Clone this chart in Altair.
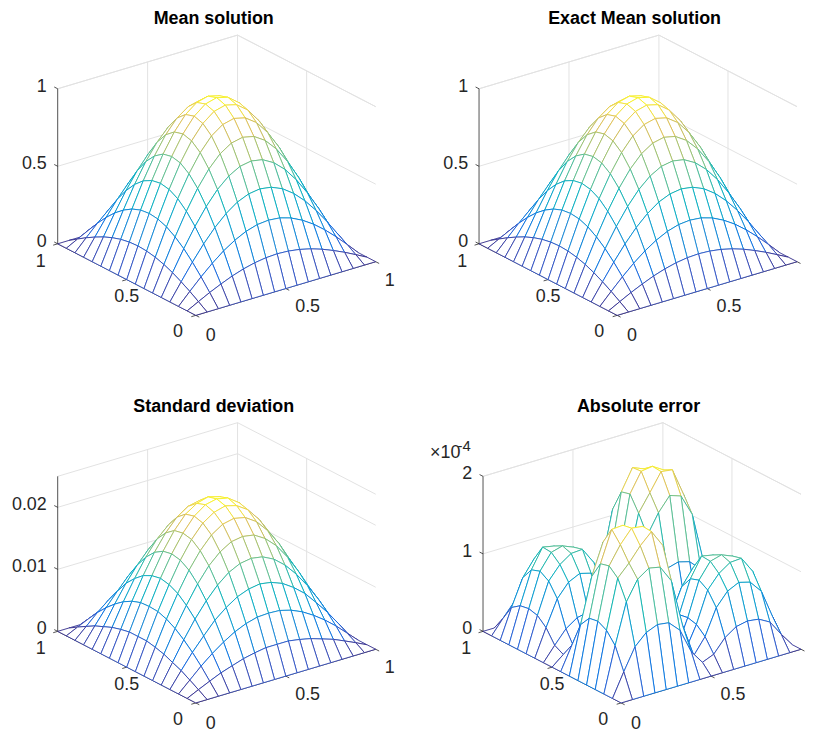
import altair as alt
import pandas as pd

# Surface heights, rows = x index, columns = y index (17 x 17 mesh)
mean_rows = [
 [0]*17,
 [0,.038,.075,.108,.138,.162,.180,.191,.195,.191,.180,.162,.138,.108,.075,.038,0],
 [0,.075,.147,.213,.271,.318,.354,.376,.383,.376,.354,.318,.271,.213,.147,.075,0],
 [0,.108,.213,.309,.393,.462,.514,.545,.556,.545,.514,.462,.393,.309,.213,.108,0],
 [0,.138,.271,.393,.500,.588,.653,.694,.707,.694,.653,.588,.500,.393,.271,.138,0],
 [0,.162,.318,.462,.588,.691,.768,.815,.831,.815,.768,.691,.588,.462,.318,.162,0],
 [0,.180,.354,.514,.653,.768,.854,.906,.924,.906,.854,.768,.653,.514,.354,.180,0],
 [0,.191,.376,.545,.694,.815,.906,.962,.981,.962,.906,.815,.694,.545,.376,.191,0],
 [0,.195,.383,.556,.707,.831,.924,.981,1.00,.981,.924,.831,.707,.556,.383,.195,0],
 [0,.191,.376,.545,.694,.815,.906,.962,.981,.962,.906,.815,.694,.545,.376,.191,0],
 [0,.180,.354,.514,.653,.768,.854,.906,.924,.906,.854,.768,.653,.514,.354,.180,0],
 [0,.162,.318,.462,.588,.691,.768,.815,.831,.815,.768,.691,.588,.462,.318,.162,0],
 [0,.138,.271,.393,.500,.588,.653,.694,.707,.694,.653,.588,.500,.393,.271,.138,0],
 [0,.108,.213,.309,.393,.462,.514,.545,.556,.545,.514,.462,.393,.309,.213,.108,0],
 [0,.075,.147,.213,.271,.318,.354,.376,.383,.376,.354,.318,.271,.213,.147,.075,0],
 [0,.038,.075,.108,.138,.162,.180,.191,.195,.191,.180,.162,.138,.108,.075,.038,0],
 [0]*17,
]
exact_rows = mean_rows  # the two panels read identically

# thousandths
std_rows = [
 [0]*17,
 [0,.87,1.7,2.5,3.1,3.7,4.1,4.4,4.4,4.4,4.1,3.7,3.1,2.5,1.7,.87,0],
 [0,1.7,3.4,4.9,6.2,7.3,8.1,8.6,8.7,8.6,8.1,7.3,6.2,4.9,3.4,1.7,0],
 [0,2.5,4.9,7.0,9.0,10.5,11.7,12.4,12.7,12.4,11.7,10.5,9.0,7.0,4.9,2.5,0],
 [0,3.1,6.2,9.0,11.4,13.4,14.9,15.8,16.1,15.8,14.9,13.4,11.4,9.0,6.2,3.1,0],
 [0,3.7,7.3,10.5,13.4,15.8,17.5,18.6,18.9,18.6,17.5,15.8,13.4,10.5,7.3,3.7,0],
 [0,4.1,8.1,11.7,14.9,17.5,19.5,20.7,21.1,20.7,19.5,17.5,14.9,11.7,8.1,4.1,0],
 [0,4.4,8.6,12.4,15.8,18.6,20.7,21.9,22.4,21.9,20.7,18.6,15.8,12.4,8.6,4.4,0],
 [0,4.4,8.7,12.7,16.1,18.9,21.1,22.4,22.8,22.4,21.1,18.9,16.1,12.7,8.7,4.4,0],
 [0,4.4,8.6,12.4,15.8,18.6,20.7,21.9,22.4,21.9,20.7,18.6,15.8,12.4,8.6,4.4,0],
 [0,4.1,8.1,11.7,14.9,17.5,19.5,20.7,21.1,20.7,19.5,17.5,14.9,11.7,8.1,4.1,0],
 [0,3.7,7.3,10.5,13.4,15.8,17.5,18.6,18.9,18.6,17.5,15.8,13.4,10.5,7.3,3.7,0],
 [0,3.1,6.2,9.0,11.4,13.4,14.9,15.8,16.1,15.8,14.9,13.4,11.4,9.0,6.2,3.1,0],
 [0,2.5,4.9,7.0,9.0,10.5,11.7,12.4,12.7,12.4,11.7,10.5,9.0,7.0,4.9,2.5,0],
 [0,1.7,3.4,4.9,6.2,7.3,8.1,8.6,8.7,8.6,8.1,7.3,6.2,4.9,3.4,1.7,0],
 [0,.87,1.7,2.5,3.1,3.7,4.1,4.4,4.4,4.4,4.1,3.7,3.1,2.5,1.7,.87,0],
 [0]*17,
]

# units of 1e-4
error_rows = [
 [0]*17,
 [0,.30,.58,.72,.78,.76,.62,.30,.12,.18,.35,.45,.48,.46,.38,.18,0],
 [0,.58,1.10,1.35,1.45,1.42,1.20,.58,.15,.35,.68,.85,.92,.88,.72,.35,0],
 [0,.72,1.35,1.50,1.68,1.82,1.60,.75,.15,.45,.85,1.02,1.12,1.13,.92,.45,0],
 [0,.78,1.45,1.68,1.85,1.83,1.55,.78,.12,.48,.92,1.12,1.16,1.10,.95,.48,0],
 [0,.76,1.42,1.82,1.83,1.70,1.45,.74,.10,.46,.88,1.13,1.10,1.00,.85,.45,0],
 [0,.62,1.20,1.60,1.55,1.45,1.20,.62,.07,.38,.72,.92,.95,.85,.70,.38,0],
 [0,.30,.58,.75,.78,.74,.62,.30,.04,.18,.35,.45,.48,.45,.38,.18,0],
 [0,.12,.15,.15,.12,.10,.07,.04,.02,.04,.07,.10,.12,.12,.15,.12,0],
 [0,.18,.35,.45,.48,.46,.38,.18,.04,.30,.60,.74,.78,.74,.60,.30,0],
 [0,.35,.68,.85,.92,.88,.72,.35,.07,.60,1.15,1.38,1.57,1.54,1.26,.60,0],
 [0,.45,.85,1.02,1.12,1.13,.92,.45,.10,.74,1.40,1.60,1.82,1.81,1.45,.74,0],
 [0,.48,.92,1.12,1.16,1.10,.95,.48,.12,.78,1.58,1.83,1.84,1.75,1.45,.76,0],
 [0,.46,.88,1.13,1.10,1.00,.85,.45,.12,.74,1.53,1.81,1.75,1.60,1.30,.70,0],
 [0,.38,.72,.92,.95,.85,.70,.38,.15,.60,1.25,1.45,1.45,1.30,1.05,.55,0],
 [0,.18,.35,.45,.48,.45,.38,.18,.12,.30,.60,.74,.76,.70,.55,.28,0],
 [0]*17,
]

titles = ["Mean solution", "Exact Mean solution", "Standard deviation", "Absolute error"]
z_unit = [1, 1, 1e-3, 1e-4]
z_tops = [1, 1, 0.025, 2e-4]
z_tick_values = [[0, .5, 1], [0, .5, 1], [0, .01, .02], [0, 1e-4, 2e-4]]
z_tick_labels = [["0", "0.5", "1"], ["0", "0.5", "1"], ["0", "0.01", "0.02"], ["0", "1", "2"]]
xy_ticks = [0, .5, 1]
xy_labels = ["0", "0.5", "1"]

parula = ["#352a87", "#0363e1", "#1485d4", "#06a7c6", "#38b99e", "#92bf73", "#d9ba56", "#f9fb15"]
parula_stops = [0, 1/7, 2/7, 3/7, 4/7, 5/7, 6/7, 1]

FONT = "Liberation Sans"
INK = "#262626"
GRID = "#e2e2e2"

# view of the box, in panel pixels
ORIGIN = (189, 285)
X_VEC = (181, -54)
Y_VEC = (-139, -72)
Z_LEN = 156
COLS = [424, 373]
ROWS = [368, 310]
TITLE_DX = [-5, 20]


def project(x, y, z, ztop):
    return (ORIGIN[0] + x * X_VEC[0] + y * Y_VEC[0],
            ORIGIN[1] + x * X_VEC[1] + y * Y_VEC[1] - z / ztop * Z_LEN)


def segment(a, b, ztop):
    p, q = project(*a, ztop), project(*b, ztop)
    return {"x": p[0], "y": p[1], "x2": q[0], "y2": q[1]}


def panel(rows, idx):
    col = idx % 2
    row = idx // 2
    unit, ztop = z_unit[idx], z_tops[idx]
    zmax = max(max(r) for r in rows) * unit
    xs = alt.Scale(domain=[0, COLS[col]], range=[0, COLS[col]], nice=False, zero=False)
    ys = alt.Scale(domain=[ROWS[row], 0], range=[ROWS[row], 0][::-1], nice=False, zero=False)
    ys = alt.Scale(domain=[0, ROWS[row]], range=[0, ROWS[row]], nice=False, zero=False)
    X = alt.X("x:Q", scale=xs, axis=None)
    Y = alt.Y("y:Q", scale=ys, axis=None)

    # back walls and floor
    walls = []
    ztick = z_tick_values[idx] + [ztop]
    for z in ztick:
        walls.append(segment((0, 1, z), (1, 1, z), ztop))
        walls.append(segment((1, 1, z), (1, 0, z), ztop))
    for a in (.5,):
        walls.append(segment((a, 1, 0), (a, 1, ztop), ztop))
        walls.append(segment((1, a, 0), (1, a, ztop), ztop))
        walls.append(segment((a, 0, 0), (a, 1, 0), ztop))
        walls.append(segment((0, a, 0), (1, a, 0), ztop))
    walls.append(segment((1, 1, 0), (1, 1, ztop), ztop))
    wall_layer = alt.Chart(pd.DataFrame(walls)).mark_rule(color=GRID, strokeWidth=1).encode(
        x=X, y=Y, x2="x2:Q", y2="y2:Q")

    # axes and ticks
    axes = [segment((0, 0, 0), (1, 0, 0), ztop),
            segment((0, 0, 0), (0, 1, 0), ztop),
            segment((0, 1, 0), (0, 1, ztop), ztop)]
    for v in xy_ticks:
        axes.append(segment((v, 0, 0), (v, -.025, 0), ztop))
        axes.append(segment((0, v, 0), (-.025, v, 0), ztop))
    for z in z_tick_values[idx]:
        axes.append(segment((0, 1, z), (0, 1.025, z), ztop))
    axes_layer = alt.Chart(pd.DataFrame(axes)).mark_rule(color=INK, strokeWidth=.8).encode(
        x=X, y=Y, x2="x2:Q", y2="y2:Q")

    # mesh: one filled cell per quad, far cells first so near ones hide them
    n = len(rows)
    cells = []
    order = sorted(((i, j) for i in range(n - 1) for j in range(n - 1)),
                   key=lambda c: -(54 * c[0] + 72 * c[1]))
    for q, (i, j) in enumerate(order):
        corners = [(i, j), (i + 1, j), (i + 1, j + 1), (i, j + 1), (i, j)]
        level = sum(rows[a][b] for a, b in corners[:4]) / 4 * unit
        for v, (a, b) in enumerate(corners):
            sx, sy = project(a / (n - 1), b / (n - 1), rows[a][b] * unit, ztop)
            cells.append({"x": sx, "y": sy, "q": q, "v": v, "level": level})
    mesh = alt.Chart(pd.DataFrame(cells)).mark_line(
        fill="white", strokeWidth=.9, strokeJoin="round").encode(
        x=X, y=Y, detail="q:N", order="v:Q",
        stroke=alt.Stroke("level:Q", legend=None, scale=alt.Scale(
            domain=[s * zmax for s in parula_stops], range=parula)))

    # tick labels, offset from the tick in panel pixels
    labels = []
    z_off = (-18, 0)
    for v, t in zip(z_tick_values[idx], z_tick_labels[idx]):
        p = project(0, 1, v, ztop)
        labels.append({"x": p[0] - 11, "y": p[1] - 2, "t": t, "a": "right"})
    x_off = [(15, 21), (22, 19), (14, 19)]
    y_off = [(-18, 17), (0, 18), (-17, 18)]
    for v, t, o, u in zip(xy_ticks, xy_labels, x_off, y_off):
        if not (col == 1 and v == 1):  # falls past the window edge in the reference
            p = project(v, 0, 0, ztop)
            labels.append({"x": p[0] + o[0], "y": p[1] + o[1], "t": t, "a": "center"})
        p = project(0, v, 0, ztop)
        labels.append({"x": p[0] + u[0], "y": p[1] + u[1], "t": t, "a": "center"})
    lab = pd.DataFrame(labels)
    texts = []
    for a in ("right", "center"):
        texts.append(alt.Chart(lab[lab.a == a]).mark_text(
            font=FONT, fontSize=18, color=INK, align=a, baseline="middle").encode(
            x=X, y=Y, text="t:N"))
    layers = [wall_layer, axes_layer, mesh] + texts

    if idx == 3:
        top = project(0, 1, ztop, ztop)
        mult = pd.DataFrame([
            {"x": top[0] - 38, "y": top[1] - 23, "t": "\u00d710", "s": 18},
        ])
        expo = pd.DataFrame([
            {"x": top[0] - 19, "y": top[1] - 30, "t": "-4", "s": 15},
        ])
        layers.append(alt.Chart(mult).mark_text(font=FONT, fontSize=18, color=INK, align="center",
                                                baseline="middle").encode(x=X, y=Y, text="t:N"))
        layers.append(alt.Chart(expo).mark_text(font=FONT, fontSize=15, color=INK, align="center",
                                                baseline="middle").encode(x=X, y=Y, text="t:N"))

    return alt.layer(*layers).properties(
        width=COLS[col], height=ROWS[row],
        title=alt.TitleParams(titles[idx], font=FONT, fontSize=18, fontWeight="bold", color="black",
                              anchor="middle", dx=TITLE_DX[col], offset=4),
    ).resolve_scale(x="shared", y="shared", stroke="independent")


sets = [mean_rows, exact_rows, std_rows, error_rows]
top_row = alt.hconcat(panel(sets[0], 0), panel(sets[1], 1), spacing=0)
bottom_row = alt.hconcat(panel(sets[2], 2), panel(sets[3], 3), spacing=0)
chart = alt.vconcat(top_row, bottom_row, spacing=0).properties(padding=0).configure_view(
    stroke=None).configure_concat(spacing=0)

chart.save("out.html", embed_options={"renderer": "svg", "actions": False})
